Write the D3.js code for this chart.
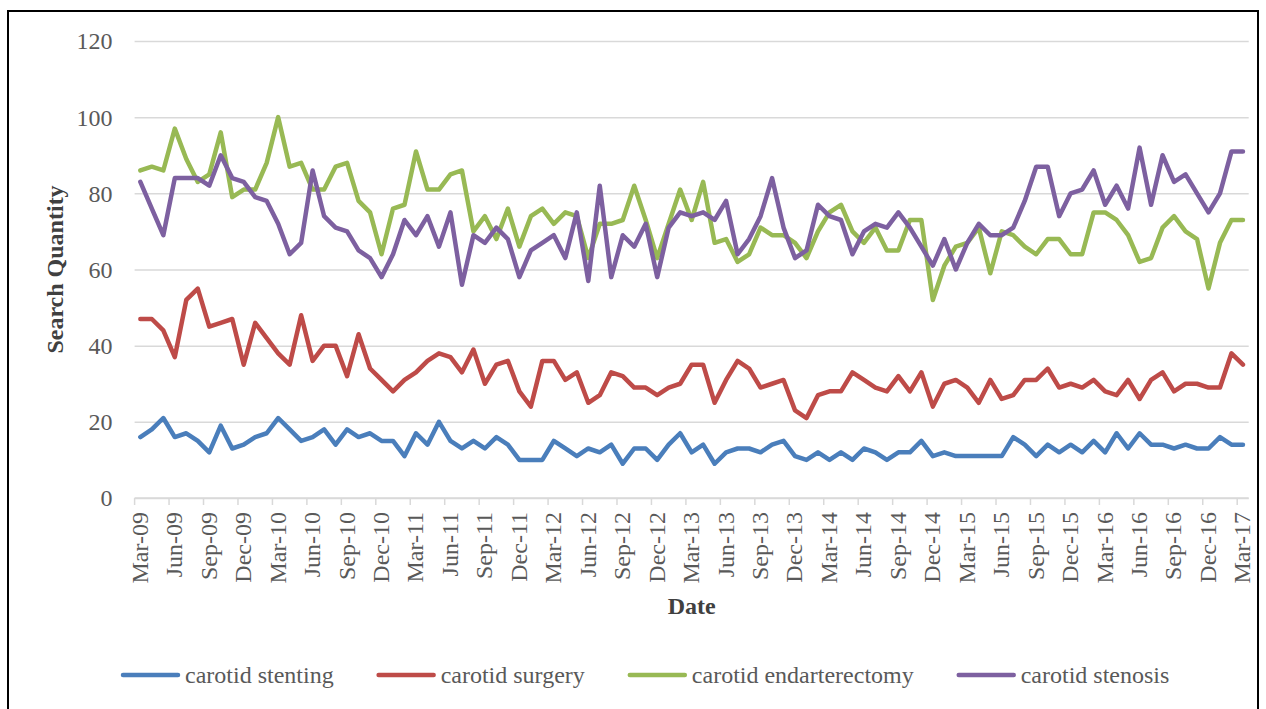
<!DOCTYPE html>
<html>
<head>
<meta charset="utf-8">
<script src="https://cdn.jsdelivr.net/npm/d3@7"></script>
<style>
  html, body { margin: 0; padding: 0; background: #ffffff; }
  svg { display: block; }
  text { font-family: "Liberation Serif", "Times New Roman", serif; }
</style>
</head>
<body>
<svg id="chart" width="1266" height="709"></svg>
<script>
// ---------------- DATA ----------------
const categories = [
  "Mar-09","Apr-09","May-09","Jun-09","Jul-09","Aug-09","Sep-09","Oct-09","Nov-09","Dec-09",
  "Jan-10","Feb-10","Mar-10","Apr-10","May-10","Jun-10","Jul-10","Aug-10","Sep-10","Oct-10","Nov-10","Dec-10",
  "Jan-11","Feb-11","Mar-11","Apr-11","May-11","Jun-11","Jul-11","Aug-11","Sep-11","Oct-11","Nov-11","Dec-11",
  "Jan-12","Feb-12","Mar-12","Apr-12","May-12","Jun-12","Jul-12","Aug-12","Sep-12","Oct-12","Nov-12","Dec-12",
  "Jan-13","Feb-13","Mar-13","Apr-13","May-13","Jun-13","Jul-13","Aug-13","Sep-13","Oct-13","Nov-13","Dec-13",
  "Jan-14","Feb-14","Mar-14","Apr-14","May-14","Jun-14","Jul-14","Aug-14","Sep-14","Oct-14","Nov-14","Dec-14",
  "Jan-15","Feb-15","Mar-15","Apr-15","May-15","Jun-15","Jul-15","Aug-15","Sep-15","Oct-15","Nov-15","Dec-15",
  "Jan-16","Feb-16","Mar-16","Apr-16","May-16","Jun-16","Jul-16","Aug-16","Sep-16","Oct-16","Nov-16","Dec-16",
  "Jan-17","Feb-17","Mar-17"
];

const tickLabels = [
  "Mar-09","Jun-09","Sep-09","Dec-09","Mar-10","Jun-10","Sep-10","Dec-10",
  "Mar-11","Jun-11","Sep-11","Dec-11","Mar-12","Jun-12","Sep-12","Dec-12",
  "Mar-13","Jun-13","Sep-13","Dec-13","Mar-14","Jun-14","Sep-14","Dec-14",
  "Mar-15","Jun-15","Sep-15","Dec-15","Mar-16","Jun-16","Sep-16","Dec-16","Mar-17"
];

const yTicks = [0, 20, 40, 60, 80, 100, 120];

const stenting = [
  16,18,21,16,17,15,12,19,13,14, 16,17,21,18,15,16,18,14,18,16,17,15,
  15,11,17,14,20,15,13,15,13,16,14,10, 10,10,15,13,11,13,12,14,9,13,13,10,
  14,17,12,14,9,12,13,13,12,14,15,11, 10,12,10,12,10,13,12,10,12,12,15,11,
  12,11,11,11,11,11,16,14,11,14,12,14, 12,15,12,17,13,17,14,14,13,14,13,13,
  16,14,14
];

const surgery = [
  47,47,44,37,52,55,45,46,47,35, 46,42,38,35,48,36,40,40,32,43,34,31,
  28,31,33,36,38,37,33,39,30,35,36,28, 24,36,36,31,33,25,27,33,32,29,29,27,
  29,30,35,35,25,31,36,34,29,30,31,23, 21,27,28,28,33,31,29,28,32,28,33,24,
  30,31,29,25,31,26,27,31,31,34,29,30, 29,31,28,27,31,26,31,33,28,30,30,29,
  29,38,35
];

const endarterectomy = [
  86,87,86,97,89,83,85,96,79,81, 81,88,100,87,88,81,81,87,88,78,75,64,
  76,77,91,81,81,85,86,70,74,68,76,66, 74,76,72,75,74,63,72,72,73,82,73,63,
  72,81,73,83,67,68,62,64,71,69,69,67, 63,70,75,77,70,67,71,65,65,73,73,52,
  61,66,67,71,59,70,69,66,64,68,68,64, 64,75,75,73,69,62,63,71,74,70,68,55,
  67,73,73
];

const stenosis = [
  83,76,69,84,84,84,82,90,84,83, 79,78,72,64,67,86,74,71,70,65,63,58,
  64,73,69,74,66,75,56,69,67,71,68,58, 65,67,69,63,75,57,82,58,69,66,72,58,
  71,75,74,75,73,78,64,68,74,84,71,63, 65,77,74,73,64,70,72,71,75,71,66,61,
  68,60,67,72,69,69,71,78,87,87,74,80, 81,86,77,82,76,92,77,90,83,85,80,75,
  80,91,91
];

const seriesNames = ["carotid stenting", "carotid surgery", "carotid endarterectomy", "carotid stenosis"];
const seriesValues = [stenting, surgery, endarterectomy, stenosis];
const seriesColors = ["#4A7EBB", "#BE4B48", "#98B954", "#7D60A0"];

// ---------------- LAYOUT ----------------
const W = 1266, H = 709;
const plot = { left: 134.6, right: 1248.7, top: 41, bottom: 498 };

const svg = d3.select("#chart");
svg.append("rect").attr("width", W).attr("height", H).attr("fill", "#ffffff");

// frame
svg.append("rect")
  .attr("x", 8).attr("y", 11).attr("width", 1250).attr("height", 720)
  .attr("fill", "none").attr("stroke", "#000000").attr("stroke-width", 2);

const x = d3.scalePoint().domain(categories).range([plot.left, plot.right]).padding(0.5);
const step = x.step();
const y = d3.scaleLinear().domain([0, 120]).range([plot.bottom, plot.top]);

// gridlines + y labels
const yAxis = d3.axisLeft(y).tickValues(yTicks).tickSize(-(plot.right - plot.left)).tickPadding(22);
const gy = svg.append("g").attr("transform", `translate(${plot.left},0)`).call(yAxis);
gy.select(".domain").remove();
gy.selectAll(".tick line").attr("stroke", "#d9d9d9").attr("stroke-width", 1.5);
gy.selectAll(".tick text")
  .attr("font-family", "Liberation Serif, Times New Roman, serif")
  .attr("font-size", 24).attr("fill", "#595959").attr("dy", "0.33em");

// x axis line
svg.append("line")
  .attr("x1", plot.left).attr("x2", plot.right)
  .attr("y1", plot.bottom).attr("y2", plot.bottom)
  .attr("stroke", "#d9d9d9").attr("stroke-width", 1.5);

// x tick marks at category boundaries (every 3 months)
svg.append("g").selectAll("line")
  .data(tickLabels)
  .join("line")
  .attr("x1", d => x(d) - step / 2).attr("x2", d => x(d) - step / 2)
  .attr("y1", plot.bottom).attr("y2", plot.bottom + 7)
  .attr("stroke", "#d9d9d9").attr("stroke-width", 1.5);

// x labels via axis
const xAxis = d3.axisBottom(x).tickValues(tickLabels).tickSize(0).tickPadding(0);
const gx = svg.append("g").attr("transform", `translate(0,${plot.bottom})`).call(xAxis);
gx.select(".domain").remove();
gx.selectAll(".tick text")
  .attr("font-family", "Liberation Serif, Times New Roman, serif")
  .attr("font-size", 24).attr("fill", "#595959")
  .attr("text-anchor", "end")
  .attr("transform", "translate(-1,14) rotate(-90)")
  .attr("x", 0).attr("y", 0).attr("dy", "0.33em");

// axis titles
svg.append("text")
  .attr("transform", `translate(63,${(plot.top + plot.bottom) / 2}) rotate(-90)`)
  .attr("text-anchor", "middle")
  .attr("font-size", 24).attr("font-weight", "bold").attr("fill", "#404040")
  .text("Search Quantity");

svg.append("text")
  .attr("x", (plot.left + plot.right) / 2).attr("y", 614)
  .attr("text-anchor", "middle")
  .attr("font-size", 24).attr("font-weight", "bold").attr("fill", "#404040")
  .text("Date");

// lines
const line = d3.line()
  .x((d, i) => x(categories[i]))
  .y(d => y(d));

svg.append("g").selectAll("path")
  .data(seriesValues)
  .join("path")
  .attr("d", d => line(d))
  .attr("fill", "none")
  .attr("stroke", (d, i) => seriesColors[i])
  .attr("stroke-width", 4.5)
  .attr("stroke-linejoin", "round")
  .attr("stroke-linecap", "round");

// legend
const legend = svg.append("g");
let lx = 123;
const ly = 675;
seriesNames.forEach((name, i) => {
  legend.append("line")
    .attr("x1", lx).attr("x2", lx + 55)
    .attr("y1", ly).attr("y2", ly)
    .attr("stroke", seriesColors[i]).attr("stroke-width", 4.5)
    .attr("stroke-linecap", "round");
  const t = legend.append("text")
    .attr("x", lx + 62).attr("y", ly + 8)
    .attr("font-size", 24).attr("fill", "#595959")
    .text(name);
  const tw = t.node().getComputedTextLength();
  lx = lx + 62 + tw + 45;
});
</script>
</body>
</html>
